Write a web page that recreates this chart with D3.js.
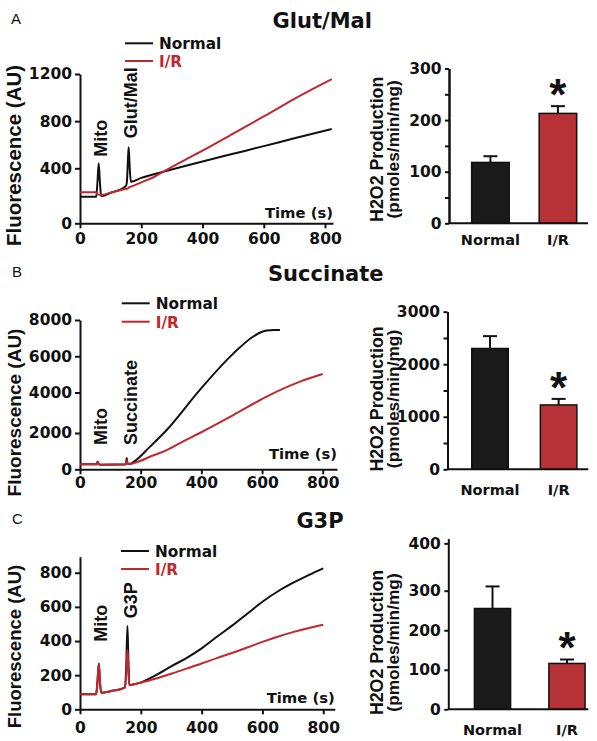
<!DOCTYPE html>
<html><head><meta charset="utf-8">
<script src="https://cdn.jsdelivr.net/npm/d3@7"></script>
<style>body{margin:0;background:#fff}</style>
</head><body>
<svg id="c" width="597" height="741"></svg>
<script>
// ---------------- data ----------------
const panelLetters = ["A", "B", "C"];
const titles = ["Glut/Mal", "Succinate", "G3P"];
const seriesNames = ["Normal", "I/R"];
const additions = [["Mito", "Glut/Mal"], ["Mito", "Succinate"], ["Mito", "G3P"]];
const timeTicks = [0, 200, 400, 600, 800];

// [time (s), fluorescence (AU)]
const glutNormal = [[0,193],[53,193],[57,300],[61,442],[65,300],[69,198],[100,222],[150,272],[153,300],[157,500],[159,578],[162,420],[166,302],[200,330],[272,375],[400,458],[500,523],[600,588],[700,655],[822,733]];
const glutIR = [[0,225],[53,225],[56,212],[70,206],[100,222],[150,250],[156,252],[160,262],[166,266],[200,298],[240,335],[272,375],[320,440],[400,550],[500,695],[600,840],[700,990],[822,1157]];
const succNormal = [[0,280],[55,280],[58,420],[62,290],[66,255],[150,275],[152,380],[154,620],[156,330],[165,300],[180,450],[230,1236],[285,2133],[395,4145],[505,6145],[571,7090],[600,7350],[615,7420],[640,7450],[659,7450]];
const succIR = [[0,280],[55,280],[58,370],[62,280],[66,255],[150,270],[152,340],[154,500],[156,320],[165,300],[176,330],[200,470],[230,690],[286,1055],[340,1540],[395,2000],[505,2880],[615,3800],[725,4600],[800,5020]];
const g3pNormal = [[0,88],[53,88],[57,150],[62,269],[66,150],[70,97],[100,106],[148,129],[152,250],[156,488],[159,300],[162,142],[200,158],[250,200],[300,252],[350,300],[400,357],[450,425],[500,490],[550,560],[600,630],[650,690],[700,740],[750,785],[800,826]];
const g3pIR = [[0,88],[53,88],[57,150],[62,269],[66,150],[70,97],[100,106],[148,129],[152,200],[156,347],[159,250],[162,142],[200,156],[250,180],[300,208],[350,238],[400,268],[450,300],[500,330],[550,362],[600,395],[650,425],[700,452],[750,475],[800,495]];

const glutTicks = [0, 400, 800, 1200];
const succTicks = [0, 2000, 4000, 6000, 8000];
const g3pTicks = [0, 200, 400, 600, 800];

// H2O2 production bars (pmoles/min/mg): [Normal, I/R]
const glutBarMean = [118, 213], glutBarErr = [12, 14];
const succBarMean = [2300, 1225], succBarErr = [235, 115];
const g3pBarMean = [255, 116], g3pBarErr = [54, 10];
const glutBarTicks = [0, 100, 200, 300], glutBarMinor = [50, 150, 250];
const succBarTicks = [0, 1000, 2000, 3000], succBarMinor = [500, 1500, 2500];
const g3pBarTicks = [0, 100, 200, 300, 400], g3pBarMinor = [];

// ---------------- drawing ----------------
const svg = d3.select("#c");
const BLACK = "#111", RED = "#c1272d", REDBAR = "#b73236";
const HF = "'DejaVu Sans', sans-serif";       // horizontal text
const RF = "'Liberation Sans', Arial, sans-serif"; // rotated text

function styleAxis(g) {
  g.select(".domain").attr("stroke", BLACK).attr("stroke-width", 2);
  g.selectAll(".tick line").attr("stroke", BLACK).attr("stroke-width", 2);
  g.selectAll(".tick text").attr("font-family", HF).attr("font-weight", "bold")
    .attr("font-size", 15.5).attr("fill", BLACK);
}

function rotText(x, y, txt, size, anchor, fill) {
  svg.append("text").attr("transform", `translate(${x},${y}) rotate(-90)`)
    .attr("text-anchor", anchor).attr("font-family", RF).attr("font-weight", "bold")
    .attr("font-size", size).attr("fill", fill || BLACK).text(txt);
}

function linePanel(p) {
  const x = d3.scaleLinear().domain([0, p.xMax]).range([80, p.xEnd]);
  const y = d3.scaleLinear().domain(p.yDom).range(p.yRng);
  const ya = svg.append("g").attr("transform", "translate(80,0)")
    .call(d3.axisLeft(y).tickValues(p.yTicks).tickSize(5).tickPadding(3).tickSizeOuter(0).tickFormat(d3.format("d")));
  styleAxis(ya);
  const xa = svg.append("g").attr("transform", `translate(0,${p.yRng[0]})`)
    .call(d3.axisBottom(x).tickValues(timeTicks).tickSize(5).tickPadding(p.xPad).tickSizeOuter(0));
  styleAxis(xa);
  const line = d3.line().x(d => x(d[0])).y(d => y(d[1])).curve(d3.curveMonotoneX);
  svg.append("path").datum(p.normal).attr("d", line).attr("fill", "none")
    .attr("stroke", BLACK).attr("stroke-width", 2).attr("stroke-linejoin", "round");
  svg.append("path").datum(p.ir).attr("d", line).attr("fill", "none")
    .attr("stroke", RED).attr("stroke-width", 2).attr("stroke-linejoin", "round");
  // legend
  [0, 1].forEach(i => {
    const ly = p.legY[i];
    svg.append("line").attr("x1", p.legX).attr("x2", p.legX + 28).attr("y1", ly).attr("y2", ly)
      .attr("stroke", i ? RED : BLACK).attr("stroke-width", 2);
    svg.append("text").attr("x", p.legX + 34).attr("y", ly + 6).attr("font-family", HF)
      .attr("font-weight", "bold").attr("font-size", 15.3).attr("fill", i ? RED : BLACK).text(seriesNames[i]);
  });
  // Time label
  svg.append("text").attr("x", p.xEnd).attr("y", p.timeY).attr("text-anchor", "end")
    .attr("font-family", HF).attr("font-weight", "bold").attr("font-size", 14.8).attr("fill", BLACK).text("Time (s)");
  // y title
  rotText(21, p.yTitleY, "Fluorescence (AU)", p.yTitleSize, "middle");
  // additions
  rotText(106.8, p.add1Y, p.adds[0], 18, "start");
  rotText(136.5, p.add2Y, p.adds[1], 18, "start");
}

function barPanel(p) {
  const y = d3.scaleLinear().domain(p.yDom).range(p.yRng);
  const xb = d3.scaleBand().domain(seriesNames).range([p.ax, p.axEnd])
    .paddingInner(p.pi).paddingOuter(p.po).align(p.al);
  const y0 = p.yRng[0];
  // bars
  seriesNames.forEach((s, i) => {
    const top = y(p.mean[i]), errTop = y(p.mean[i] + p.err[i]);
    const cx = xb(s) + xb.bandwidth() / 2;
    svg.append("line").attr("x1", cx).attr("x2", cx).attr("y1", top).attr("y2", errTop)
      .attr("stroke", BLACK).attr("stroke-width", 2);
    svg.append("line").attr("x1", cx - 7).attr("x2", cx + 7).attr("y1", errTop).attr("y2", errTop)
      .attr("stroke", BLACK).attr("stroke-width", 2);
    svg.append("rect").attr("x", xb(s)).attr("y", top).attr("width", xb.bandwidth())
      .attr("height", y0 - top).attr("fill", i ? REDBAR : "#1a1a1a")
      .attr("stroke", BLACK).attr("stroke-width", 1.5);
    svg.append("text").attr("x", cx).attr("y", p.catY).attr("text-anchor", "middle")
      .attr("font-family", HF).attr("font-weight", "bold").attr("font-size", 14.5).attr("fill", BLACK).text(s);
    if (i === 1) {
      svg.append("text").attr("x", cx).attr("y", errTop - 19 + 23).attr("text-anchor", "middle")
        .attr("font-family", RF).attr("font-weight", "bold").attr("font-size", 44).attr("fill", BLACK).text("*");
    }
  });
  const ya = svg.append("g").attr("transform", `translate(${p.ax},0)`)
    .call(d3.axisLeft(y).tickValues(p.ticks).tickSize(4).tickPadding(3.5).tickSizeOuter(0).tickFormat(d3.format("d")));
  styleAxis(ya);
  if (p.minor.length) {
    const ym = svg.append("g").attr("transform", `translate(${p.ax},0)`)
      .call(d3.axisLeft(y).tickValues(p.minor).tickSize(4).tickFormat("").tickSizeOuter(0));
    styleAxis(ym);
  }
  svg.append("line").attr("x1", p.ax).attr("x2", p.axEnd).attr("y1", y0).attr("y2", y0)
    .attr("stroke", BLACK).attr("stroke-width", 2);
  rotText(383.3, p.titleY, "H2O2 Production", 17.8, "middle");
  rotText(398.5, p.titleY, "(pmoles/min/mg)", 17.3, "middle");
}

function header(letter, lx, ly, title, tx, ty) {
  svg.append("text").attr("x", lx).attr("y", ly).attr("font-family", RF).attr("font-size", 15)
    .attr("fill", BLACK).text(letter);
  svg.append("text").attr("x", tx).attr("y", ty).attr("text-anchor", "middle").attr("font-family", HF)
    .attr("font-weight", "bold").attr("font-size", 21).attr("fill", BLACK).text(title);
}

// Panel A
header(panelLetters[0], 11, 23.5, titles[0], 322.3, 28.3);
linePanel({xMax: 826, xEnd: 333, yDom: [0, 400, 1200], yRng: [223.3, 168.3, 74], yTicks: glutTicks, xPad: 5,
  normal: glutNormal, ir: glutIR, legX: 125, legY: [43.3, 61], timeY: 217.5, yTitleY: 155.5, yTitleSize: 20.5,
  adds: additions[0], add1Y: 156.7, add2Y: 138.3});
barPanel({yDom: [0, 300], yRng: [223.3, 68.5], ax: 449, axEnd: 588, pi: 0.444, po: 0.2517, al: 0.667,
  mean: glutBarMean, err: glutBarErr, ticks: glutBarTicks, minor: glutBarMinor, catY: 245, titleY: 149.3});

// Panel B
header(panelLetters[1], 12, 277.3, titles[1], 325.8, 280.5);
linePanel({xMax: 847, xEnd: 337, yDom: [0, 2000, 4000, 8000], yRng: [469.3, 433, 392.5, 320], yTicks: succTicks, xPad: 2.5,
  normal: succNormal, ir: succIR, legX: 121.7, legY: [303.3, 321.7], timeY: 459, yTitleY: 412.5, yTitleSize: 19,
  adds: additions[1], add1Y: 445, add2Y: 445});
barPanel({yDom: [0, 3000], yRng: [469.3, 311.7], ax: 447.5, axEnd: 588.3, pi: 0.468, po: 0.26, al: 0.68,
  mean: succBarMean, err: succBarErr, ticks: succBarTicks, minor: succBarMinor, catY: 495, titleY: 399});

// Panel C
header(panelLetters[2], 12, 523.5, titles[2], 320, 528);
linePanel({xMax: 838, xEnd: 334.8, yDom: [0, 894], yRng: [709.3, 556.7], yTicks: g3pTicks, xPad: 7.4,
  normal: g3pNormal, ir: g3pIR, legX: 121, legY: [551, 569], timeY: 703, yTitleY: 646.5, yTitleSize: 18.5,
  adds: additions[2], add1Y: 641.7, add2Y: 618.3});
barPanel({yDom: [0, 300, 410], yRng: [709.3, 590.7, 538.6], ax: 448.3, axEnd: 588.3, pi: 0.514, po: 0.197, al: 0.89,
  mean: g3pBarMean, err: g3pBarErr, ticks: g3pBarTicks, minor: g3pBarMinor, catY: 735, titleY: 642.5});
</script>
</body></html>
